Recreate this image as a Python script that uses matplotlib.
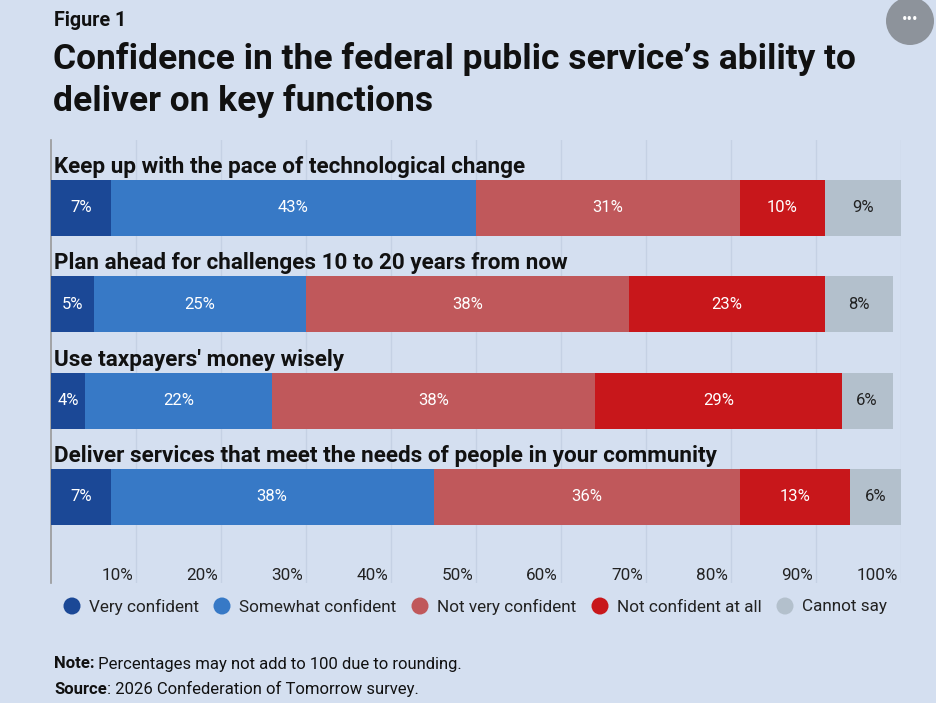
import numpy as np
import matplotlib.pyplot as plt
import matplotlib.transforms as mtrans
from matplotlib.patches import Ellipse

# ===============================
# Data
# ===============================
questions = [
    "Keep up with the pace of technological change",
    "Plan ahead for challenges 10 to 20 years from now",
    "Use taxpayers' money wisely",
    "Deliver services that meet the needs of people in your community",
]
responses = ["Very confident", "Somewhat confident", "Not very confident",
             "Not confident at all", "Cannot say"]

very_confident = [7, 5, 4, 7]
somewhat_confident = [43, 25, 22, 38]
not_very_confident = [31, 38, 38, 36]
not_confident_at_all = [10, 23, 29, 13]
cannot_say = [9, 8, 6, 6]

ticks = [10, 20, 30, 40, 50, 60, 70, 80, 90, 100]

# ===============================
# Style
# ===============================
bg = "#d4dff0"
colors = ["#1b4896", "#3779c6", "#c0585b", "#c8171b", "#b3c0cc"]
text_colors = ["white", "white", "white", "white", "#222222"]

plt.rcParams['font.family'] = ['Roboto', 'DejaVu Sans']

W, H = 936, 703
fig = plt.figure(figsize=(W/100, H/100), dpi=100, facecolor=bg)
ax = fig.add_axes([51/W, 1 - 583/H, 850/W, 443/H])
ax.set_facecolor(bg)

series = [very_confident, somewhat_confident, not_very_confident,
          not_confident_at_all, cannot_say]

y = np.arange(len(questions))
left = np.zeros(len(questions))
for vals, col, tcol in zip(series, colors, text_colors):
    vals = np.array(vals, dtype=float)
    ax.barh(y, vals, left=left, height=0.58, color=col, zorder=3)
    for yi, l, v in zip(y, left, vals):
        ax.text(l + v / 2, yi, f"{int(v)}%", ha='center', va='center',
                color=tcol, fontsize=12, zorder=4)
    left += vals

for yi, q in zip(y, questions):
    ax.text(0.4, yi - 0.425, q, ha='left', va='center', fontsize=16.2,
            fontweight='bold', color='#111111', zorder=4)

ax.set_xlim(0, 100)
ax.set_ylim(3.894, -0.706)
ax.set_yticks([])
ax.set_xticks(ticks)
ax.set_xticklabels([f"{t}%" for t in ticks], fontsize=12.3, color='#222222')
for lab in ax.get_xticklabels():
    lab.set_horizontalalignment('right')
ax.tick_params(axis='x', length=0, pad=-11)
ax.grid(axis='x', color='#c5d1e4', linewidth=1, zorder=0)
for s in ['top', 'right', 'bottom']:
    ax.spines[s].set_visible(False)
ax.spines['left'].set_color('#999999')
ax.spines['left'].set_linewidth(1.2)

# tick labels sit just left of their gridline
offset = mtrans.ScaledTranslation(-3/100, 0, fig.dpi_scale_trans)
for lab in ax.get_xticklabels():
    lab.set_transform(lab.get_transform() + offset)

# ===============================
# Titles
# ===============================
fig.text(54/W, 1 - 20/H, "Figure 1", fontsize=14.2, fontweight='bold',
         va='center', ha='left', color='#111111')
fig.text(53/W, 1 - 59/H, "Confidence in the federal public service\u2019s ability to",
         fontsize=25.5, fontweight='bold', va='center', ha='left', color='#111111')
fig.text(53/W, 1 - 101/H, "deliver on key functions",
         fontsize=25.5, fontweight='bold', va='center', ha='left', color='#111111')

# "..." button
fig.patches.append(Ellipse((910/W, 1 - 21/H), 48/W, 48/H, transform=fig.transFigure,
                           facecolor='#8d939b', edgecolor='none'))
fig.text(910/W, 1 - 20/H, "\u2022\u2022\u2022", fontsize=12, color='white',
         ha='center', va='center')

# ===============================
# Legend
# ===============================
legend_x = [72, 222, 420, 600, 785]
for lx, lab, col in zip(legend_x, responses, colors):
    fig.patches.append(Ellipse((lx/W, 1 - 606/H), 17/W, 17/H,
                               transform=fig.transFigure, facecolor=col,
                               edgecolor='none'))
    fig.text((lx + 17)/W, 1 - 607/H, lab, fontsize=12.3, va='center',
             ha='left', color='#222222')

# ===============================
# Notes
# ===============================
renderer = fig.canvas.get_renderer()
for yy, bold, rest in [(664, "Note:", " Percentages may not add to 100 due to rounding."),
                       (689, "Source", ": 2026 Confederation of Tomorrow survey.")]:
    t = fig.text(54/W, 1 - yy/H, bold, fontsize=12, fontweight='bold',
                 va='center', ha='left', color='#111111')
    bb = t.get_window_extent(renderer)
    fig.text(bb.x1/W, 1 - yy/H, rest, fontsize=12, va='center', ha='left',
             color='#111111')

fig.savefig("out.png", dpi=100, facecolor=bg)
